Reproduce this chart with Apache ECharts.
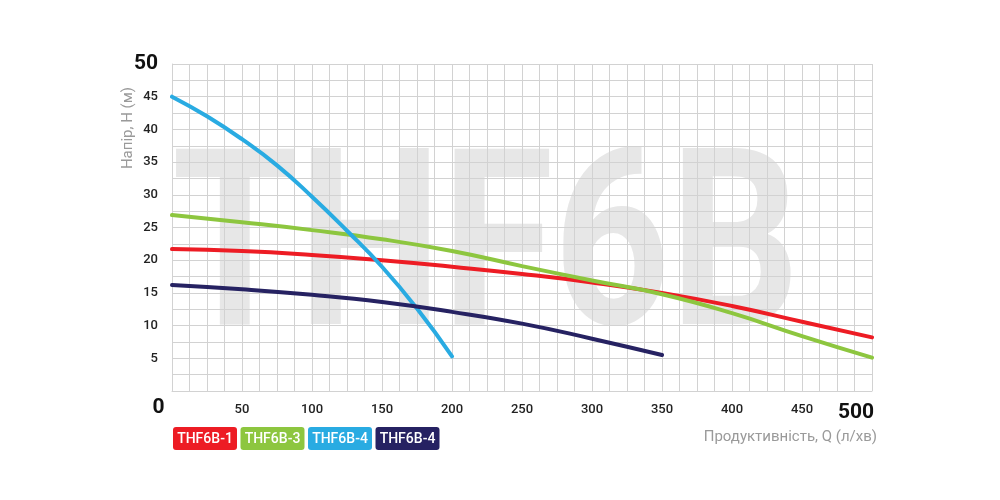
<!DOCTYPE html>
<html><head><meta charset="utf-8">
<script src="https://cdn.jsdelivr.net/npm/echarts@6/dist/echarts.min.js"></script>
<style>html,body{margin:0;padding:0;background:#fff}#c{width:1000px;height:500px}</style>
</head><body><div id="c"></div>
<script>
const FONT = "Roboto, 'Noto Sans', sans-serif";
const seriesNames = ['THF6B-1','THF6B-3','THF6B-4','THF6B-4 '];
const seriesColors = ['#ed1c24','#8dc63f','#29abe2','#262262'];
const red   = [[0,21.7],[50,21.4],[100,20.8],[150,20.0],[200,19.0],[250,17.9],[300,16.6],[350,15.0],[400,13.0],[450,10.6],[500,8.2]];
const green = [[0,26.9],[50,25.8],[100,24.6],[150,23.2],[200,21.4],[250,19.1],[300,16.9],[350,14.8],[400,11.9],[450,8.4],[500,5.1]];
const blue  = [[0,45.0],[25,42.0],[50,38.5],[75,34.5],[100,29.7],[125,24.5],[150,19.0],[175,12.6],[200,5.3]];
const navy  = [[0,16.2],[50,15.55],[100,14.7],[150,13.6],[200,12.1],[250,10.3],[300,8.0],[350,5.5]];
const seriesData = [red, green, blue, navy];
const xTitle = 'Продуктивність, Q (л/хв)';
const yTitle = 'Напір, H (м)';
const watermark = 'THF6B';

const chart = echarts.init(document.getElementById('c'));
const gridColor = '#d2d2d2';
const legendRich = {};
seriesColors.forEach((c, i) => {
  legendRich['s' + i] = {color: '#fff', backgroundColor: c, borderRadius: 3, width: 64, align: 'center',
    padding: [5, 0, 4, 0], fontSize: 14, lineHeight: 14, fontWeight: 500, fontFamily: FONT};
});
chart.setOption({
  animation: false,
  textStyle: {fontFamily: FONT},
  grid: {left: 172, right: 128, top: 64, bottom: 109},
  xAxis: {
    type: 'value', min: 0, max: 500, interval: 50, z: 2,
    axisLine: {lineStyle: {color: gridColor, width: 1}},
    axisTick: {show: false},
    splitLine: {show: true, lineStyle: {color: gridColor, width: 1}},
    minorTick: {show: false, splitNumber: 4},
    minorSplitLine: {show: true, lineStyle: {color: gridColor, width: 1}},
    axisLabel: {
      margin: 12, fontSize: 13, fontWeight: 500, color: '#222', fontFamily: FONT, showMinLabel: true, showMaxLabel: true,
      formatter: v => v === 0 ? '{z|0}' : (v === 500 ? '{b|500}' : String(v)),
      rich: {
        z: {fontSize: 21, fontWeight: 'bold', color: '#111', fontFamily: FONT, lineHeight: 9, padding: [0, 27, 0, 0]},
        b: {fontSize: 21, fontWeight: 'bold', color: '#111', fontFamily: FONT, lineHeight: 19, padding: [0, 32, 0, 0]}
      }
    }
  },
  yAxis: {
    type: 'value', min: 0, max: 50, interval: 5, z: 2,
    axisLine: {show: true, lineStyle: {color: gridColor, width: 1}},
    axisTick: {show: false},
    splitLine: {show: true, lineStyle: {color: gridColor, width: 1}},
    minorTick: {show: false, splitNumber: 2},
    minorSplitLine: {show: true, lineStyle: {color: gridColor, width: 1}},
    axisLabel: {
      margin: 14, fontSize: 13, fontWeight: 500, color: '#222', fontFamily: FONT,
      formatter: v => v === 0 ? '' : (v === 50 ? '{b|50}' : String(v)),
      rich: {b: {fontSize: 21, fontWeight: 'bold', color: '#111', fontFamily: FONT}}
    }
  },
  legend: {
    left: 163, top: 422, orient: 'horizontal',
    itemWidth: 0, itemHeight: 0, itemGap: -1.5, icon: 'none',
    selectedMode: false,
    formatter: n => '{s' + seriesNames.indexOf(n) + '|' + n.trim() + '}',
    textStyle: {rich: legendRich},
    data: seriesNames.map(n => ({name: n, icon: 'none'}))
  },
  graphic: [
    {type: 'text', z: -10, silent: true, x: 486, y: 262, scaleX: 0.827,
      style: {text: watermark, fill: '#e7e7e7', font: 'bold 246px Roboto', textAlign: 'center', textVerticalAlign: 'middle'}},
    {type: 'text', x: 128, y: 128, rotation: Math.PI / 2,
      style: {text: yTitle, fill: '#9a9a9a', font: '15px ' + FONT, textAlign: 'center', textVerticalAlign: 'middle'}},
    {type: 'text', x: 877, y: 437,
      style: {text: xTitle, fill: '#9a9a9a', font: '15px ' + FONT, textAlign: 'right', textVerticalAlign: 'middle'}}
  ],
  series: seriesNames.map((n, i) => ({
    name: n, type: 'line', smooth: true, showSymbol: false, symbol: 'none',
    data: seriesData[i], lineStyle: {color: seriesColors[i], width: 4, cap: 'round'},
    itemStyle: {color: seriesColors[i]}, z: 3 + i
  }))
});
</script>
</body></html>
